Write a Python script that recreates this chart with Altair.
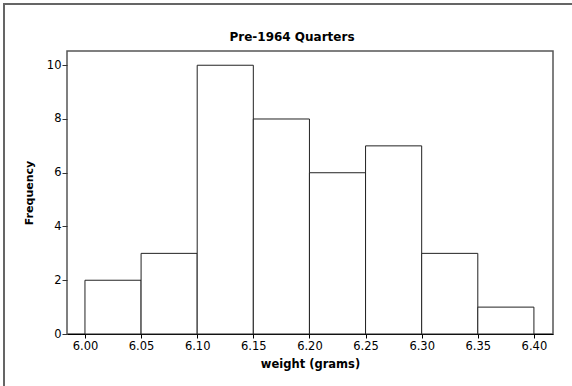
import altair as alt
import pandas as pd

# Histogram of pre-1964 quarter weights (grams), bin width 0.05
bin_start = [6.00, 6.05, 6.10, 6.15, 6.20, 6.25, 6.30, 6.35]
bin_end = [6.05, 6.10, 6.15, 6.20, 6.25, 6.30, 6.35, 6.40]
counts = [2, 3, 10, 8, 6, 7, 3, 1]
x_ticks = [6.00, 6.05, 6.10, 6.15, 6.20, 6.25, 6.30, 6.35, 6.40]
y_ticks = [0, 2, 4, 6, 8, 10]

df = pd.DataFrame({"start": bin_start, "end": bin_end, "count": counts})

FONT = "DejaVu Sans"

bars = alt.Chart(df).mark_rect(
    fill="white", stroke="#222222", strokeWidth=1
).encode(
    x=alt.X(
        "start:Q",
        scale=alt.Scale(domain=[5.984, 6.417], nice=False, zero=False),
        axis=alt.Axis(
            values=x_ticks, format=".2f", title="weight (grams)",
            domain=True, domainColor="#000000", domainWidth=1,
            tickColor="#000000", tickSize=4, labelPadding=2,
            labelFont=FONT, labelFontSize=11.5, labelColor="#000000",
            titleFont=FONT, titleFontSize=11.5, titleFontWeight="bold",
            titleColor="#000000", titlePadding=7, grid=False,
        ),
    ),
    x2="end:Q",
    y=alt.Y(
        "count:Q",
        scale=alt.Scale(domain=[0, 10.53], nice=False),
        axis=alt.Axis(
            values=y_ticks, title="Frequency", domain=False,
            tickColor="#333333", tickSize=5, labelPadding=1,
            labelFont=FONT, labelFontSize=11.5, labelColor="#000000",
            titleFont=FONT, titleFontSize=11, titleFontWeight="bold",
            titleColor="#000000", titlePadding=12, grid=False,
        ),
    ),
    y2=alt.datum(0),
)

# Outer border around the whole figure
frame = alt.Chart(df).mark_rect(
    fill=None, stroke="#666666", strokeWidth=1.5
).encode(
    x=alt.value(-63), x2=alt.value(640),
    y=alt.value(-47), y2=alt.value(450),
)

# The title sits above the outer border's bounds; dy brings it back inside
chart = alt.layer(frame, bars).properties(
    width=486,
    height=283,
    autosize=alt.AutoSizeParams(type="none"),
    padding={"left": 67, "top": 51, "right": 19, "bottom": 52},
    background="white",
    title=alt.TitleParams(
        "Pre-1964 Quarters", font=FONT, fontSize=12, fontWeight="bold",
        color="#000000", anchor="middle", frame="group", dx=-18, dy=61,
        offset=11, baseline="alphabetic",
    ),
).configure_view(
    stroke="#555555", strokeWidth=1.5
)

chart.save("out.html", embed_options={"renderer": "svg", "actions": False})
